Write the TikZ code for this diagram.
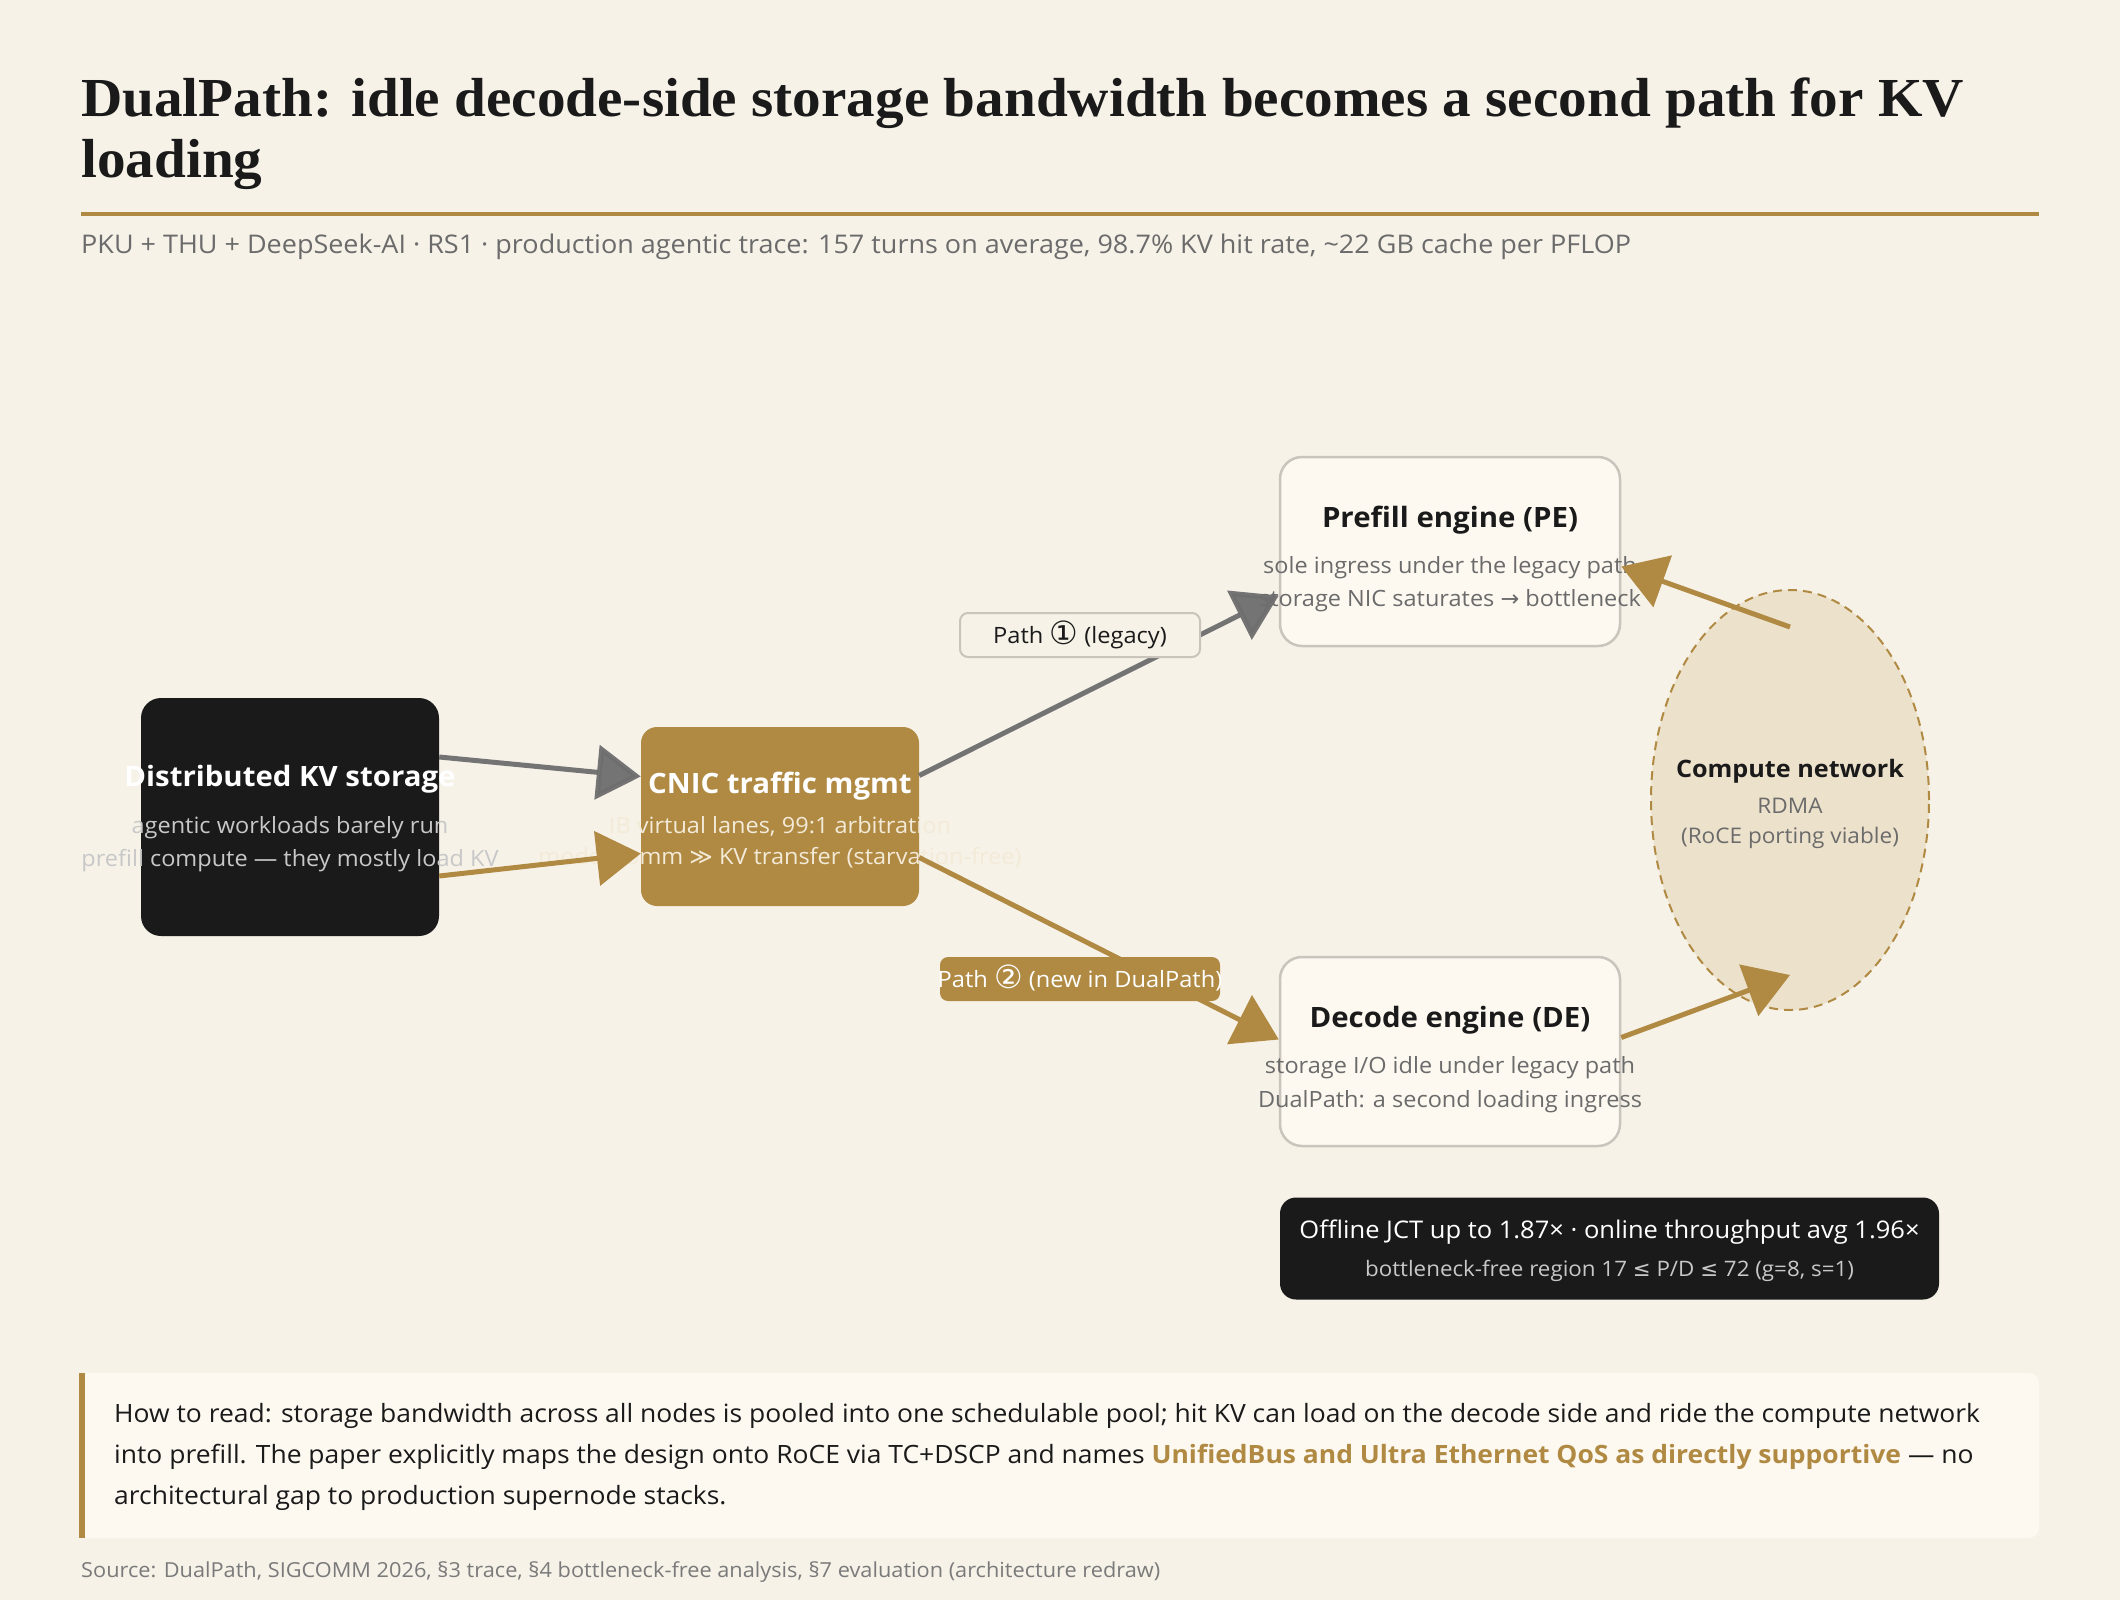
\documentclass[tikz,border=0pt]{standalone}
\usepackage{fontspec}
\setmainfont{Open Sans}[FakeStretch=1.05]
\newfontfamily\titlefont{Liberation Serif}[FakeStretch=1.04]
\newfontfamily\symfont{DejaVu Sans}
\usetikzlibrary{arrows.meta,shapes.geometric}
\definecolor{bg}{HTML}{F6F2E8}
\definecolor{gold}{HTML}{B08A43}
\definecolor{ink}{HTML}{1A1A1A}
\definecolor{graytxt}{HTML}{6B6B6B}
\definecolor{card}{HTML}{FDF9F1}
\definecolor{cardline}{HTML}{C9C5BD}
\definecolor{ellfill}{HTML}{ECE1CB}
\definecolor{arrgray}{HTML}{6E6E6E}
\definecolor{darksub}{HTML}{C8C8C8}
\definecolor{goldsub}{HTML}{F3EAD8}
\definecolor{srcgray}{HTML}{7A7A7A}
\tikzset{
  txt/.style={inner sep=0pt, anchor=base},
  boxtitle/.style={txt, font=\bfseries\fontsize{28}{33}\selectfont},
  boxsub/.style={txt, font=\fontsize{22.4}{26}\selectfont},
  cardbox/.style={rectangle, rounded corners=22pt, fill=card, draw=cardline, line width=2.5pt},
  arrhead/.style={-{Triangle[length=44pt,width=54pt]}},
  grayarr/.style={arrhead, line width=5pt, draw=arrgray, fill=arrgray, opacity=0.95},
  goldarr/.style={arrhead, line width=5pt, draw=gold, fill=gold},
  pathlbl/.style={txt, font=\fontsize{22.5}{28}\selectfont},
}
\newcommand{\circd}[1]{{\symfont\fontsize{32}{32}\selectfont\raisebox{-1.5pt}{#1}}}
\begin{document}
\begin{tikzpicture}[x=1pt,y=-1pt]
\useasboundingbox (0,0) rectangle (2120,1600);
\fill[bg] (0,0) rectangle (2120,1600);

% title
\node[txt, anchor=base west, text=ink, font=\titlefont\bfseries\fontsize{55}{62}\selectfont] (title1) at (81,117) {DualPath: idle decode-side storage bandwidth becomes a second path for KV};
\node[txt, anchor=base west, text=ink, font=\titlefont\bfseries\fontsize{55}{62}\selectfont] (title2) at (81,177) {loading};
\fill[gold] (81,212) rectangle (2039,216);
\node[txt, anchor=base west, text=graytxt, font=\fontsize{25.7}{30}\selectfont] (subtitle) at (81,253) {PKU + THU + DeepSeek-AI · RS1 · production agentic trace: 157 turns on average, 98.7\% KV hit rate, \textasciitilde 22 GB cache per PFLOP};

% boxes
\node[rectangle, rounded corners=20pt, fill=ink, minimum width=298pt, minimum height=238pt, inner sep=0pt] (kv) at (290,817) {};
\node[rectangle, rounded corners=16pt, fill=gold, minimum width=278pt, minimum height=179pt, inner sep=0pt] (cnic) at (780,816.5) {};
\node[cardbox, minimum width=340pt, minimum height=189pt, inner sep=0pt] (pe) at (1450,551.5) {};
\node[cardbox, minimum width=340pt, minimum height=189pt, inner sep=0pt] (de) at (1450,1051.5) {};
\node[ellipse, fill=ellfill, draw=gold, line width=2pt, dash pattern=on 9pt off 6pt, minimum width=278pt, minimum height=420pt, inner sep=0pt] (net) at (1790,800) {};

% box texts
\node[boxtitle, text=white] (kvt) at (290,786) {Distributed KV storage};
\node[boxsub, text=darksub] (kvs1) at (290,833) {agentic workloads barely run};
\node[boxsub, text=darksub] (kvs2) at (290,866) {prefill compute — they mostly load KV};

\node[boxtitle, text=white] (cnict) at (780,793) {CNIC traffic mgmt};
\node[boxsub, text=goldsub] (cnics1) at (780,833) {IB virtual lanes, 99:1 arbitration};
\node[boxsub, text=goldsub] (cnics2) at (780,864) {model comm {\symfont ≫} KV transfer (starvation-free)};

\node[boxtitle, text=ink] (pet) at (1450,527) {Prefill engine (PE)};
\node[boxsub, text=graytxt] (pes1) at (1450,573) {sole ingress under the legacy path};
\node[boxsub, text=graytxt] (pes2) at (1450,606) {storage NIC saturates {\symfont →} bottleneck};

\node[boxtitle, text=ink] (det) at (1450,1027) {Decode engine (DE)};
\node[boxsub, text=graytxt] (des1) at (1450,1073) {storage I/O idle under legacy path};
\node[boxsub, text=graytxt] (des2) at (1450,1107) {DualPath: a second loading ingress};

\node[txt, text=ink, font=\bfseries\fontsize{24}{30}\selectfont] (nett) at (1790,777) {Compute network};
\node[txt, text=graytxt, font=\fontsize{21.5}{25}\selectfont] (nets1) at (1790,813) {RDMA};
\node[txt, text=graytxt, font=\fontsize{21.5}{25}\selectfont] (nets2) at (1790,843) {(RoCE porting viable)};

% arrows
\draw[grayarr] ([yshift=60pt]kv.east) -- ([yshift=40pt]cnic.west);
\draw[goldarr] ([yshift=-59pt]kv.east) -- ([yshift=-37pt]cnic.west);
\draw[grayarr] ([yshift=41pt]cnic.east) -- ([yshift=-44pt]pe.west);
\draw[goldarr] ([yshift=-41pt]cnic.east) -- ([yshift=12pt]de.west);
\draw[goldarr] ([yshift=173pt]net.center) -- ([yshift=-15pt]pe.east);
\draw[goldarr] ([yshift=14pt]de.east) -- ([yshift=-175pt]net.center);

% path labels
\node[rectangle, rounded corners=8pt, fill=bg, draw=cardline, line width=2pt, minimum width=240pt, minimum height=44pt, inner sep=0pt] (p1box) at (1080,635) {};
\node[pathlbl, text=ink] (p1) at (1080,643) {Path \circd{①} (legacy)};
\node[rectangle, rounded corners=8pt, fill=gold, minimum width=280pt, minimum height=44pt, inner sep=0pt] (p2box) at (1080,979) {};
\node[pathlbl, text=white] (p2) at (1080,987) {Path \circd{②} (new in DualPath)};

% results box
\node[rectangle, rounded corners=16pt, fill=ink, minimum width=659pt, minimum height=102pt, inner sep=0pt] (res) at (1609.5,1248.5) {};
\node[txt, text=white, font=\fontsize{24.3}{30}\selectfont] (res1) at (1609.5,1238) {Offline JCT up to 1.87× · online throughput avg 1.96×};
\node[txt, text=darksub, font=\fontsize{21.3}{25}\selectfont] (res2) at (1609.5,1276) {bottleneck-free region 17 {\symfont ≤} P/D {\symfont ≤} 72 (g=8, s=1)};

% note
\fill[card, rounded corners=10pt] (79,1373) rectangle (2039,1538);
\fill[gold] (79,1373) rectangle (85,1538);
\node[txt, anchor=base west, text=ink, font=\fontsize{25.2}{30}\selectfont] (n1) at (114,1422) {How to read: storage bandwidth across all nodes is pooled into one schedulable pool; hit KV can load on the decode side and ride the compute network};
\node[txt, anchor=base west, text=ink, font=\fontsize{25.2}{30}\selectfont] (n2) at (114,1463) {into prefill. The paper explicitly maps the design onto RoCE via TC+DSCP and names {\bfseries\color{gold}UnifiedBus and Ultra Ethernet QoS as directly supportive} — no};
\node[txt, anchor=base west, text=ink, font=\fontsize{25.2}{30}\selectfont] (n3) at (114,1504) {architectural gap to production supernode stacks.};

\node[txt, anchor=base west, text=srcgray, font=\fontsize{20.7}{24}\selectfont] (src) at (81,1577) {Source: DualPath, SIGCOMM 2026, §3 trace, §4 bottleneck-free analysis, §7 evaluation (architecture redraw)};
\end{tikzpicture}
\end{document}
